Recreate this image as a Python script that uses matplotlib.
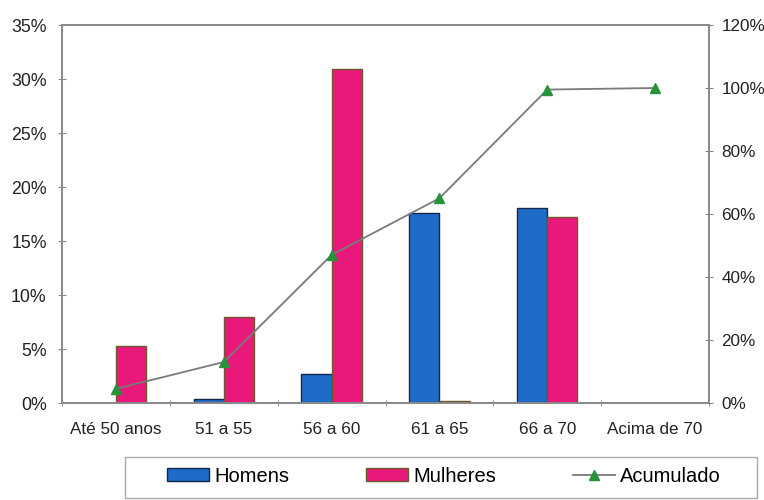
import matplotlib
matplotlib.use("Agg")
import matplotlib.pyplot as plt
import numpy as np
from matplotlib.ticker import FuncFormatter, MultipleLocator
from matplotlib.patches import Rectangle

categories = ["Até 50 anos", "51 a 55", "56 a 60", "61 a 65", "66 a 70", "Acima de 70"]
homens = [0.0, 0.35, 2.7, 17.6, 18.1, 0.0]
mulheres = [5.3, 8.0, 30.9, 0.2, 17.2, 0.0]
acumulado = [4.5, 13.0, 47.0, 65.0, 99.5, 100.0]

plt.rcParams['font.family'] = ['Liberation Sans', 'DejaVu Sans']

fig = plt.figure(figsize=(7.64, 5.0), dpi=100)
ax = fig.add_axes([62/764, 1-403/500, (709-62)/764, (403-25)/500])
ax2 = ax.twinx()

x = np.arange(len(categories))
w = 0.28
blue = "#1f6cc8"
pink = "#e8197a"
ax.bar(x - w/2, homens, w, color=blue, edgecolor="#14264a", linewidth=1.0, label="Homens", zorder=2)
ax.bar(x + w/2, mulheres, w, color=pink, edgecolor="#6b5a2a", linewidth=1.0, label="Mulheres", zorder=2)

ax2.plot(x, acumulado, color="#7a7a7a", linewidth=1.3, marker="^", markersize=7,
         markerfacecolor="#26923a", markeredgecolor="#26923a", label="Acumulado", zorder=3)

ax.set_xlim(-0.5, len(categories) - 0.5)
ax.set_ylim(0, 35)
ax2.set_ylim(0, 120)
ax.yaxis.set_major_locator(MultipleLocator(5))
ax2.yaxis.set_major_locator(MultipleLocator(20))
pct = FuncFormatter(lambda v, p: f"{v:.0f}%")
ax.yaxis.set_major_formatter(pct)
ax2.yaxis.set_major_formatter(pct)

ax.set_xticks(x)
ax.set_xticklabels(categories)
ax.set_xticks(np.arange(-0.5, len(categories)), minor=True)
ax.tick_params(axis='x', which='major', length=0, pad=14, labelsize=12.3, colors="#222222")
ax.tick_params(axis='x', which='minor', length=5, direction='inout', color="#888888")
ax.tick_params(axis='y', length=6, direction='inout', color="#888888", labelsize=12.8, labelcolor="#222222", pad=8)
ax2.tick_params(axis='y', length=6, direction='inout', color="#888888", labelsize=12.3, labelcolor="#222222", pad=6)

for a in (ax, ax2):
    for s in a.spines.values():
        s.set_color("#888888")
        s.set_linewidth(1.2)

# legend frame
fig.patches.append(Rectangle((125/764, 2/500), (757-125)/764, 41/500, transform=fig.transFigure,
                             facecolor="white", edgecolor="#aaaaaa", linewidth=1.0))

h1, l1 = ax.get_legend_handles_labels()
h2, l2 = ax2.get_legend_handles_labels()
leg = fig.legend(h1 + h2, l1 + l2, loc='center', ncol=3,
                 bbox_to_anchor=(444/764, 1-476/500),
                 frameon=False, fontsize=14.5,
                 handlelength=2.1, handleheight=0.6, handletextpad=0.25, columnspacing=3.8,
                 borderpad=0.2)

fig.savefig("out.png", dpi=100)
